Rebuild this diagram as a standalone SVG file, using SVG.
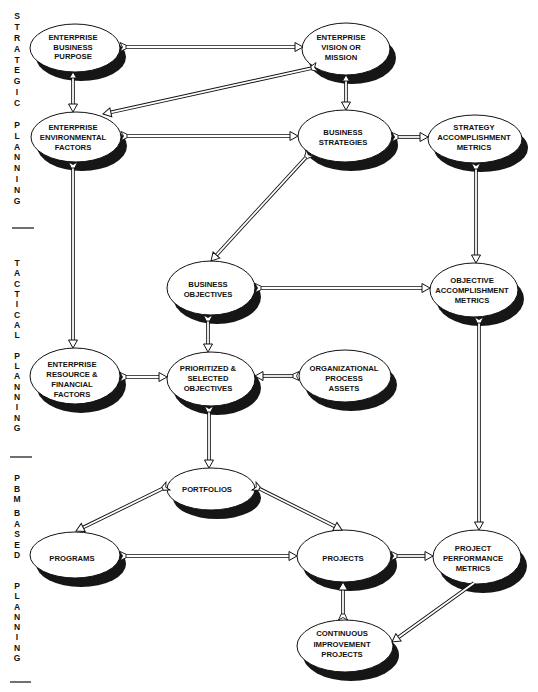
<svg xmlns="http://www.w3.org/2000/svg" width="538" height="692" viewBox="0 0 538 692">
<style>
.sh{fill:#161616}
.nd{fill:#fff;stroke:#111;stroke-width:1}
.lbl{font-family:"Liberation Sans",Arial,Helvetica,sans-serif;font-weight:bold;font-size:7.7px;fill:#111;text-anchor:middle}
.side{font-family:"Liberation Sans",Arial,Helvetica,sans-serif;font-weight:bold;font-size:8.5px;fill:#111;text-anchor:middle}
.rule{stroke:#111;stroke-width:1.2}
.o{fill:none;stroke:#111;stroke-width:3.6}
.i{fill:none;stroke:#fff;stroke-width:1.8}
.f{marker-start:url(#tail);marker-end:url(#head)}
.b{marker-start:url(#back);marker-end:url(#head)}
.h{marker-end:url(#head)}
</style>
<defs>
<marker id="head" markerUnits="userSpaceOnUse" viewBox="-1 -6 11 12" markerWidth="11" markerHeight="12" refX="0" refY="0" orient="auto" overflow="visible">
<path d="M0,-4.5 L8,0 L0,4.5 Z" fill="#fff" stroke="#111" stroke-width="1"/>
</marker>
<marker id="tail" markerUnits="userSpaceOnUse" viewBox="-1 -6 9 12" markerWidth="9" markerHeight="12" refX="6" refY="0" orient="auto" overflow="visible">
<path d="M0,-4.5 L6,-1.8 L6,1.8 L0,4.5 L2.5,0 Z" fill="#fff" stroke="#111" stroke-width="0.9"/>
</marker>
<marker id="back" markerUnits="userSpaceOnUse" viewBox="-1 -5 8 10" markerWidth="8" markerHeight="10" refX="0" refY="0" orient="auto-start-reverse" overflow="visible">
<path d="M0,-3.5 L6,0 L0,3.5 Z" fill="#fff" stroke="#111" stroke-width="0.9"/>
</marker>
</defs>
<rect width="538" height="692" fill="#fff"/>

<g id="side-labels">
<text class="side"><tspan x="17" y="19">S</tspan><tspan x="17" y="29.9">T</tspan><tspan x="17" y="40.8">R</tspan><tspan x="17" y="51.6">A</tspan><tspan x="17" y="62.5">T</tspan><tspan x="17" y="73.4">E</tspan><tspan x="17" y="84.3">G</tspan><tspan x="17" y="95.2">I</tspan><tspan x="17" y="106">C</tspan><tspan x="17" y="127.8">P</tspan><tspan x="17" y="138.7">L</tspan><tspan x="17" y="149.6">A</tspan><tspan x="17" y="160.4">N</tspan><tspan x="17" y="171.3">N</tspan><tspan x="17" y="182.2">I</tspan><tspan x="17" y="193.1">N</tspan><tspan x="17" y="204">G</tspan></text>
<line class="rule" x1="12" y1="228" x2="34" y2="228"/>
<text class="side"><tspan x="17" y="266">T</tspan><tspan x="17" y="276.3">A</tspan><tspan x="17" y="286.6">C</tspan><tspan x="17" y="296.9">T</tspan><tspan x="17" y="307.2">I</tspan><tspan x="17" y="317.5">C</tspan><tspan x="17" y="327.9">A</tspan><tspan x="17" y="338.2">L</tspan><tspan x="17" y="358.8">P</tspan><tspan x="17" y="369.1">L</tspan><tspan x="17" y="379.4">A</tspan><tspan x="17" y="389.7">N</tspan><tspan x="17" y="400">N</tspan><tspan x="17" y="410.4">I</tspan><tspan x="17" y="420.7">N</tspan><tspan x="17" y="431">G</tspan></text>
<line class="rule" x1="10" y1="457" x2="32" y2="457"/>
<text class="side"><tspan x="17" y="481">P</tspan><tspan x="17" y="491.5">B</tspan><tspan x="17" y="502">M</tspan><tspan x="17" y="516">B</tspan><tspan x="17" y="526.5">A</tspan><tspan x="17" y="537">S</tspan><tspan x="17" y="547.5">E</tspan><tspan x="17" y="558">D</tspan><tspan x="17" y="589">P</tspan><tspan x="17" y="599.3">L</tspan><tspan x="17" y="609.6">A</tspan><tspan x="17" y="619.9">N</tspan><tspan x="17" y="630.1">N</tspan><tspan x="17" y="640.4">I</tspan><tspan x="17" y="650.7">N</tspan><tspan x="17" y="661">G</tspan></text>
<line class="rule" x1="10" y1="682" x2="31" y2="682"/>
</g>

<g id="n-business-purpose">
<ellipse class="sh" cx="81" cy="57" rx="45" ry="24"/><ellipse class="nd" cx="75" cy="48" rx="45" ry="24"/>
<text class="lbl"><tspan x="73" y="40">ENTERPRISE</tspan><tspan x="73" y="49.5">BUSINESS</tspan><tspan x="73" y="59">PURPOSE</tspan></text>
</g>
<g id="n-vision">
<ellipse class="sh" cx="352" cy="58" rx="44" ry="26"/><ellipse class="nd" cx="346" cy="49" rx="44" ry="26"/>
<text class="lbl"><tspan x="341" y="40">ENTERPRISE</tspan><tspan x="341" y="50">VISION OR</tspan><tspan x="341" y="60">MISSION</tspan></text>
</g>
<g id="n-environmental">
<ellipse class="sh" cx="82" cy="146" rx="45" ry="25"/><ellipse class="nd" cx="76" cy="137" rx="45" ry="25"/>
<text class="lbl"><tspan x="73" y="130">ENTERPRISE</tspan><tspan x="73" y="140">ENVIRONMENTAL</tspan><tspan x="73" y="150">FACTORS</tspan></text>
</g>
<g id="n-business-strategies">
<ellipse class="sh" cx="351" cy="145" rx="47" ry="26"/><ellipse class="nd" cx="345" cy="136" rx="47" ry="26"/>
<text class="lbl"><tspan x="343" y="135">BUSINESS</tspan><tspan x="343" y="144.5">STRATEGIES</tspan></text>
</g>
<g id="n-strategy-metrics">
<ellipse class="sh" cx="481" cy="148" rx="47" ry="24"/><ellipse class="nd" cx="475" cy="139" rx="47" ry="24"/>
<text class="lbl"><tspan x="474" y="130">STRATEGY</tspan><tspan x="474" y="140">ACCOMPLISHMENT</tspan><tspan x="474" y="150">METRICS</tspan></text>
</g>
<g id="n-business-objectives">
<ellipse class="sh" cx="217" cy="297" rx="44" ry="27"/><ellipse class="nd" cx="211" cy="288" rx="44" ry="27"/>
<text class="lbl"><tspan x="208" y="287">BUSINESS</tspan><tspan x="208" y="297">OBJECTIVES</tspan></text>
</g>
<g id="n-objective-metrics">
<ellipse class="sh" cx="480" cy="299" rx="44" ry="27"/><ellipse class="nd" cx="474" cy="290" rx="44" ry="27"/>
<text class="lbl"><tspan x="472" y="283">OBJECTIVE</tspan><tspan x="472" y="293">ACCOMPLISHMENT</tspan><tspan x="472" y="303">METRICS</tspan></text>
</g>
<g id="n-resource">
<ellipse class="sh" cx="81" cy="385" rx="45" ry="28"/><ellipse class="nd" cx="75" cy="376" rx="45" ry="28"/>
<text class="lbl"><tspan x="72" y="367">ENTERPRISE</tspan><tspan x="72" y="377">RESOURCE &amp;</tspan><tspan x="72" y="387">FINANCIAL</tspan><tspan x="72" y="396.5">FACTORS</tspan></text>
</g>
<g id="n-prioritized">
<ellipse class="sh" cx="217" cy="388" rx="44" ry="27"/><ellipse class="nd" cx="211" cy="379" rx="44" ry="27"/>
<text class="lbl"><tspan x="208" y="371">PRIORITIZED &amp;</tspan><tspan x="208" y="381">SELECTED</tspan><tspan x="208" y="391">OBJECTIVES</tspan></text>
</g>
<g id="n-process-assets">
<ellipse class="sh" cx="351" cy="385" rx="46" ry="26"/><ellipse class="nd" cx="345" cy="376" rx="46" ry="26"/>
<text class="lbl"><tspan x="344" y="371">ORGANIZATIONAL</tspan><tspan x="344" y="381">PROCESS</tspan><tspan x="344" y="390.5">ASSETS</tspan></text>
</g>
<g id="n-portfolios">
<ellipse class="sh" cx="217" cy="498" rx="44" ry="21"/><ellipse class="nd" cx="211" cy="489" rx="44" ry="21"/>
<text class="lbl" x="207" y="492">PORTFOLIOS</text>
</g>
<g id="n-programs">
<ellipse class="sh" cx="81" cy="564" rx="45" ry="23"/><ellipse class="nd" cx="75" cy="555" rx="45" ry="23"/>
<text class="lbl" x="72" y="561">PROGRAMS</text>
</g>
<g id="n-projects">
<ellipse class="sh" cx="350" cy="565" rx="47" ry="26"/><ellipse class="nd" cx="344" cy="556" rx="47" ry="26"/>
<text class="lbl" x="343" y="561">PROJECTS</text>
</g>
<g id="n-performance-metrics">
<ellipse class="sh" cx="483" cy="566" rx="44" ry="27"/><ellipse class="nd" cx="477" cy="557" rx="44" ry="27"/>
<text class="lbl"><tspan x="473" y="551">PROJECT</tspan><tspan x="473" y="561">PERFORMANCE</tspan><tspan x="473" y="571">METRICS</tspan></text>
</g>
<g id="n-continuous-improvement">
<ellipse class="sh" cx="351" cy="655" rx="48" ry="26"/><ellipse class="nd" cx="345" cy="646" rx="48" ry="26"/>
<text class="lbl"><tspan x="342" y="636">CONTINUOUS</tspan><tspan x="342" y="646.5">IMPROVEMENT</tspan><tspan x="342" y="657">PROJECTS</tspan></text>
</g>

<g id="connectors">
<path class="o" d="M126,47 H295"/><path class="i f" d="M126,47 H295"/>
<path class="o" d="M73,78 V104"/><path class="i b" d="M73,78 V104"/>
<path class="o" d="M311.14,68.29 L110.81,112.28"/><path class="i f" d="M311.14,68.29 L110.81,112.28"/>
<path class="o" d="M346,81 V102"/><path class="i b" d="M346,81 V102"/>
<path class="o" d="M127,136 H290"/><path class="i f" d="M127,136 H290"/>
<path class="o" d="M398,137 H420"/><path class="i f" d="M398,137 H420"/>
<path class="o" d="M305.95,157.42 L216.41,255.1"/><path class="i f" d="M305.95,157.42 L216.41,255.1"/>
<path class="o" d="M476,169 V255"/><path class="i f" d="M476,169 V255"/>
<path class="o" d="M73,168 V340"/><path class="i f" d="M73,168 V340"/>
<path class="o" d="M261,288 H422"/><path class="i f" d="M261,288 H422"/>
<path class="o" d="M208,321 V344"/><path class="i f" d="M208,321 V344"/>
<path class="o" d="M126,377 H159"/><path class="i f" d="M126,377 H159"/>
<path class="o" d="M293,376 H263"/><path class="i f" d="M293,376 H263"/>
<path class="o" d="M209,412 V460"/><path class="i f" d="M209,412 V460"/>
<path class="o" d="M162.61,488.64 L83.19,527.48"/><path class="i f" d="M162.61,488.64 L83.19,527.48"/>
<path class="o" d="M259.37,488.68 L334.84,526.42"/><path class="i f" d="M259.37,488.68 L334.84,526.42"/>
<path class="o" d="M126,556 H289"/><path class="i f" d="M126,556 H289"/>
<path class="o" d="M397,556 H425"/><path class="i f" d="M397,556 H425"/>
<path class="o" d="M479,323 V522"/><path class="i f" d="M479,323 V522"/>
<path class="o" d="M343,614 V590"/><path class="i f" d="M343,614 V590"/>
<path class="o" d="M474,583 L398.49,637.33"/><path class="i h" d="M474,583 L398.49,637.33"/>
</g>
</svg>
